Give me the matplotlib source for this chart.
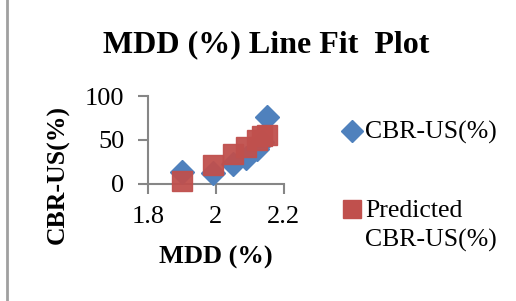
import matplotlib
matplotlib.use('Agg')
from matplotlib import pyplot as plt
from matplotlib.lines import Line2D

# data
mdd = [1.90, 1.99, 2.05, 2.09, 2.12, 2.135, 2.15]
cbr_us = [14, 12, 23, 29, 40, 48, 76]
cbr_pred = [3.8, 22, 34.5, 42, 50, 54, 56]
series_names = ['CBR-US(%)', 'Predicted\nCBR-US(%)']
x_ticks = [1.8, 2.0, 2.2]
x_tick_labels = ['1.8', '2', '2.2']
y_ticks = [0, 50, 100]

BLUE = '#4F81BD'
RED = '#C0504D'
AXIS = '#868686'

plt.rcParams['font.family'] = ['Liberation Serif', 'DejaVu Serif']

W, H = 516, 301
fig = plt.figure(figsize=(W / 100, H / 100), dpi=100)
ax = fig.add_axes([0.287, 0.389, 0.263, 0.292])

ax.plot(mdd, cbr_us, linestyle='none', marker='D', markersize=12,
        color=BLUE, clip_on=False, zorder=3)
ax.plot(mdd, cbr_pred, linestyle='none', marker='s', markersize=14,
        color=RED, alpha=0.95, clip_on=False, zorder=4)

ax.set_xlim(1.8, 2.2)
ax.set_ylim(0, 100)
ax.set_xticks(x_ticks)
ax.set_xticklabels(x_tick_labels)
ax.set_yticks(y_ticks)
for s in ['top', 'right']:
    ax.spines[s].set_visible(False)
for s in ['left', 'bottom']:
    ax.spines[s].set_color(AXIS)
    ax.spines[s].set_linewidth(1.5)
ax.tick_params(axis='both', colors=AXIS, width=1.5, length=7,
               labelsize=19, labelcolor='black')
ax.tick_params(axis='y', pad=10)
ax.tick_params(axis='x', pad=9)

# axis titles and chart title
fig.text(0.112, 0.419, 'CBR-US(%)', rotation=90, ha='center', va='center',
         fontsize=18.5, fontweight='bold')
fig.text(0.419, 0.146, 'MDD (%)', ha='center', va='center',
         fontsize=19, fontweight='bold')
fig.text(0.515, 0.85, 'MDD (%) Line Fit  Plot', ha='center', va='center',
         fontsize=23, fontweight='bold')

# legend, drawn by hand so the square sits on the first label line
leg_marks = [('D', 11, BLUE), ('s', 13, RED)]
leg_baseline = [139, 217]  # pixels from top
for (m, ms, c), name, b in zip(leg_marks, series_names, leg_baseline):
    fig.add_artist(Line2D([352 / W], [1 - (b - 8.5) / H], marker=m,
                          markersize=ms, color=c, linestyle='none',
                          transform=fig.transFigure))
    for i, line in enumerate(name.split('\n')):
        fig.text(365 / W, 1 - (b + 30 * i) / H, line, ha='left',
                 va='baseline', fontsize=18.5)

# page border line at the left
fig.add_artist(Line2D([0.014, 0.014], [0, 1], color='#A0A0A0', linewidth=2,
                      transform=fig.transFigure))

fig.savefig('out.png', dpi=100)
